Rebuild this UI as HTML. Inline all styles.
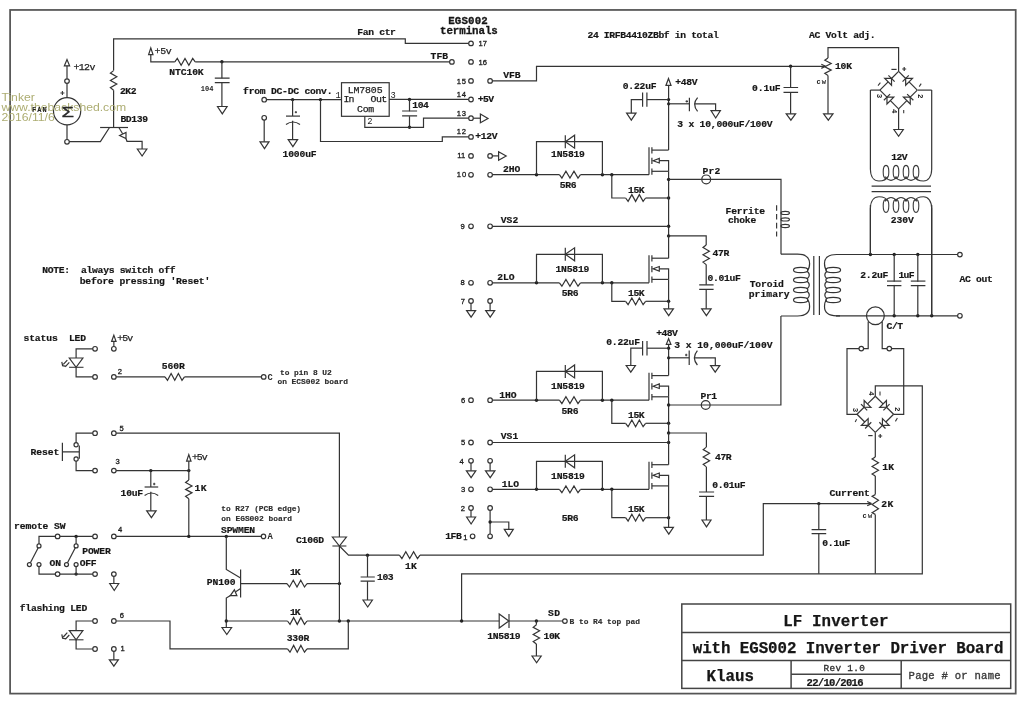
<!DOCTYPE html>
<html><head><meta charset="utf-8"><title>LF Inverter with EGS002 Inverter Driver Board</title>
<style>
html,body{margin:0;padding:0;background:#fff;}
body{width:1024px;height:702px;overflow:hidden;font-family:"Liberation Mono",monospace;}
svg{display:block;position:absolute;left:0;top:0;will-change:transform;}
path,circle,rect,ellipse{fill:none;stroke:#343434;stroke-width:1.2;stroke-linejoin:miter;stroke-linecap:butt;}
.n{stroke-width:1.1;stroke:#3a3a3a;}
.d{fill:#222;stroke:none;}
.w{fill:#fff;stroke:none;}
.b{stroke:#555;stroke-width:1.75;}
.b2{stroke:#444;stroke-width:1.5;}
.dash{stroke-dasharray:5.6 3.2;stroke:#3a3a3a;stroke-width:1.2;}
text{font-family:"Liberation Mono",monospace;fill:#222;stroke:none;white-space:pre;}
.t{font-size:9.7px;font-weight:bold;fill:#161616;stroke:#161616;stroke-width:0.2px;}
.tm{font-size:9.9px;font-weight:normal;fill:#222;stroke:#222;stroke-width:0.25px;}
.tk{font-size:8.8px;font-weight:normal;fill:#222;}
.tv{font-size:9.4px;font-weight:normal;fill:#2a2a2a;stroke:#2a2a2a;stroke-width:0.3px;}
.td{font-size:10.6px;font-weight:bold;fill:#161616;stroke:#161616;stroke-width:0.2px;}
.tg{font-size:10.6px;font-weight:normal;fill:#3a3a3a;stroke:#3a3a3a;stroke-width:0.35px;}
.tl{font-size:10.8px;font-weight:bold;fill:#161616;stroke:#161616;stroke-width:0.3px;}
.tt{font-size:15.8px;font-weight:bold;fill:#161616;stroke:#161616;stroke-width:0.25px;}
.ts{font-size:8.8px;font-weight:bold;fill:#2a2a2a;}
.tn{font-size:7.6px;font-weight:normal;fill:#1a1a1a;stroke:#1a1a1a;stroke-width:0.3px;font-family:"Liberation Sans",sans-serif;}
.tq{font-size:7.9px;font-weight:bold;fill:#2c2c2c;stroke:#2c2c2c;stroke-width:0.15px;}
.th{font-size:7px;font-weight:bold;fill:#222;}
.tx{font-size:6px;font-weight:bold;fill:#444;}
.tr{font-size:7.4px;font-weight:bold;fill:#222;}
.tp{font-size:5px;font-weight:bold;fill:#444;}
.tb{font-size:9.7px;font-weight:bold;fill:#222;stroke:#222;stroke-width:0.2px;}
.sig{font-size:15px;font-weight:normal;fill:#2a2a2a;stroke:#2a2a2a;stroke-width:0.35px;font-family:"Liberation Sans",sans-serif;}
.wm{font-family:"Liberation Sans",sans-serif;font-size:10.4px;fill:#adad72;font-weight:normal;}
</style></head>
<body>
<svg width="1024" height="702" viewBox="0 0 1024 702">
<rect x="10.1" y="9.95" width="1005.6" height="683.65" class="b"/>
<rect x="681.8" y="604" width="328.9" height="84.4" class="b2"/>
<path d="M681.8 632.4 L1010.7 632.4" class="b2"/>
<path d="M681.8 660.4 L1010.7 660.4" class="b2"/>
<path d="M791.1 660.4 L791.1 688.4" class="b2"/>
<path d="M901.2 660.4 L901.2 688.4" class="b2"/>
<path d="M791.1 674.3 L901.2 674.3" class="b2"/>
<path d="M64.4 65.8 L67 59.6 L69.6 65.8 Z"/>
<path d="M67 65.8 L67 78.8"/>
<circle cx="67" cy="81.1" r="2.3"/>
<path d="M67 83.4 L67 97.8"/>
<circle cx="67.1" cy="111.3" r="13.6"/>
<path d="M67 124.9 L67 139.5"/>
<circle cx="67" cy="141.8" r="2.3"/>
<path d="M69.3 141.6 L100.4 141.6 L109.5 127.5"/>
<path d="M100.1 127.5 L128 127.5"/>
<path d="M118.9 127.5 L122.6 133.8"/>
<path d="M126 138.8 L127 141.3 L142.1 141.3 L142.1 149"/>
<path d="M119.6 135.5 L126 132.4 L126 138.6 Z"/>
<path d="M137.35 149 H146.85 L142.1 156 Z"/>
<path d="M113.6 127.5 L113.6 90.2"/>
<path d="M113.6 70.6 L110.4 73.1 L116.8 76.75 L110.4 80.4 L116.8 84.05 L110.4 87.7 L113.6 90.2"/>
<path d="M113.6 70.6 L113.6 38.8 L405.3 38.8 L405.3 43.4 L468.7 43.4"/>
<path d="M60.4 93 H64.4 M62.4 91 V95" class="n"/>
<path d="M148.6 54.6 L150.8 48 L153 54.6 Z"/>
<path d="M150.8 54.6 L150.8 61.8 L174.8 61.8"/>
<path d="M174.8 61.8 L177.3 58.4 L181.15 65.2 L185 58.4 L188.85 65.2 L192.7 58.4 L195.2 61.8"/>
<path d="M195.2 61.8 L449.6 61.8"/>
<circle cx="451.9" cy="61.9" r="2.3"/>
<circle cx="221.9" cy="61.8" r="1.7" class="d"/>
<path d="M221.9 61.8 L221.9 78.2"/>
<path d="M214.8 78.2 H229.6 M214.8 82.7 H229.6"/>
<path d="M221.9 82.7 L221.9 106.5"/>
<path d="M217.5 106.5 H227.1 L222.3 113.9 Z"/>
<circle cx="264.2" cy="99.7" r="2.3"/>
<path d="M266.5 99.6 L341.5 99.6"/>
<circle cx="292.6" cy="99.6" r="1.7" class="d"/>
<circle cx="320.5" cy="99.6" r="1.7" class="d"/>
<rect x="341.5" y="82.7" width="47.7" height="33.6" />
<path d="M389.2 99.4 L468.7 99.4"/>
<circle cx="409.5" cy="99.4" r="1.7" class="d"/>
<path d="M409.5 99.4 L409.5 111.3"/>
<path d="M402.1 111 H417.1 M402.1 115.9 H417.1"/>
<path d="M409.5 116.2 L409.5 127.3"/>
<circle cx="409.5" cy="127.3" r="1.7" class="d"/>
<path d="M364.8 116.3 L364.8 127.3 L423.5 127.3 L423.5 118.2 L468.7 118.2"/>
<path d="M473.3 118.2 L480.4 118.2"/>
<path d="M480.4 114.1 V122.7 L488 118.4 Z"/>
<path d="M320.5 99.6 L320.5 141.5 L442.3 141.5 L442.3 136.8 L468.7 136.8"/>
<circle cx="264.2" cy="117.8" r="2.3"/>
<path d="M264.2 120.1 L264.2 141.8"/>
<path d="M260 141.8 H269 L264.5 148.6 Z"/>
<path d="M292.6 99.6 L292.6 116.1"/>
<path d="M286 116.1 H300"/>
<path d="M286 124.6 Q293 119.4 300 124.6"/>
<path d="M292.6 120.7 L292.6 139.6"/>
<path d="M288.2 139.6 H297.6 L292.9 146.6 Z"/>
<path d="M294.8 112.2 H297 M295.9 111.1 V113.3" class="n"/>
<circle cx="471" cy="43.4" r="2.3"/>
<circle cx="471" cy="61.9" r="2.3"/>
<circle cx="471" cy="80.9" r="2.3"/>
<circle cx="490.1" cy="80.9" r="2.3"/>
<circle cx="471" cy="99.5" r="2.3"/>
<circle cx="471" cy="118.2" r="2.3"/>
<circle cx="471" cy="136.9" r="2.3"/>
<circle cx="471" cy="155.9" r="2.3"/>
<circle cx="490.1" cy="155.9" r="2.3"/>
<circle cx="471" cy="174.8" r="2.3"/>
<circle cx="490.1" cy="174.8" r="2.3"/>
<circle cx="471" cy="226.3" r="2.3"/>
<circle cx="490.1" cy="226.3" r="2.3"/>
<circle cx="471" cy="282.8" r="2.3"/>
<circle cx="490.1" cy="282.8" r="2.3"/>
<circle cx="471" cy="301" r="2.3"/>
<circle cx="490.1" cy="301" r="2.3"/>
<circle cx="471" cy="400.2" r="2.3"/>
<circle cx="490.1" cy="400.2" r="2.3"/>
<circle cx="471" cy="442.5" r="2.3"/>
<circle cx="490.1" cy="442.5" r="2.3"/>
<circle cx="471" cy="460.8" r="2.3"/>
<circle cx="490.1" cy="460.8" r="2.3"/>
<circle cx="471" cy="489.3" r="2.3"/>
<circle cx="490.1" cy="489.3" r="2.3"/>
<circle cx="471" cy="508" r="2.3"/>
<circle cx="490.1" cy="508" r="2.3"/>
<circle cx="472.6" cy="536.3" r="2.3"/>
<circle cx="490.1" cy="536.3" r="2.3"/>
<path d="M492.4 80.8 L536.5 80.8 L536.5 66.3 L825 66.3"/>
<path d="M825.6 66.3 L821.3 64.2 M825.6 66.3 L821.3 68.4"/>
<path d="M492.4 155.9 L498.6 155.9"/>
<path d="M498.6 151.7 V160.3 L506.2 156 Z"/>
<path d="M471 303.3 L471 310.6"/>
<path d="M466.6 310.6 H475.6 L471.1 317.2 Z"/>
<path d="M490.1 303.3 L490.1 310.6"/>
<path d="M485.7 310.6 H494.7 L490.2 317.2 Z"/>
<path d="M471 463.1 L471 470.8"/>
<path d="M466.4 470.8 H475.8 L471.1 477.6 Z"/>
<path d="M490.1 463.1 L490.1 470.8"/>
<path d="M485.5 470.8 H494.9 L490.2 477.6 Z"/>
<path d="M471 510.3 L471 517"/>
<path d="M466.6 517 H475.6 L471.1 524 Z"/>
<path d="M490.1 510.3 L490.1 534"/>
<circle cx="490.1" cy="522" r="1.7" class="d"/>
<path d="M490.1 522 L508.8 522 L508.8 529.3"/>
<path d="M504.3 529.3 H513.3 L508.8 536.3 Z"/>
<path d="M492.4 174.7 L559.4 174.7"/>
<path d="M559.4 174.7 L561.9 178.1 L565.92 171.3 L569.95 178.1 L573.98 171.3 L578 178.1 L580.5 174.7"/>
<path d="M580.5 174.7 L649 174.7"/>
<circle cx="536.5" cy="174.7" r="1.7" class="d"/>
<circle cx="602.4" cy="174.7" r="1.7" class="d"/>
<circle cx="611.8" cy="174.7" r="1.7" class="d"/>
<path d="M536.5 174.7 L536.5 141.7 L602.4 141.7 L602.4 174.7"/>
<path d="M565.3 135.2 V148.2"/>
<path d="M565.3 141.7 L574.6 135.2 L574.6 148.2 Z"/>
<path d="M611.8 174.7 L611.8 198 L625.6 198"/>
<path d="M625.6 198 L628.1 201.4 L631.85 194.6 L635.6 201.4 L639.35 194.6 L643.1 201.4 L645.6 198"/>
<path d="M645.6 198 L668.6 198"/>
<circle cx="668.6" cy="198" r="1.7" class="d"/>
<path d="M649 147.2 L649 174.7"/>
<path d="M651.9 147.2 L651.9 153.4"/>
<path d="M651.9 157.8 L651.9 164.1"/>
<path d="M651.9 168.4 L651.9 174.7"/>
<path d="M651.9 150.1 L668.6 150.1"/>
<path d="M651.9 171.3 L668.6 171.3"/>
<path d="M653.1 160.7 L659.3 158.4 L659.3 163 Z"/>
<path d="M659.3 160.7 L668.6 160.7 L668.6 171.3"/>
<path d="M666 85.3 L668.5 78.5 L671 85.3 Z"/>
<path d="M668.6 85.3 L668.6 150.1"/>
<circle cx="668.6" cy="99.6" r="1.6" class="d"/>
<circle cx="668.6" cy="103.8" r="1.6" class="d"/>
<path d="M642.6 92.4 V106.8 M646.9 92.4 V106.8"/>
<path d="M646.9 99.6 L668.6 99.6"/>
<path d="M642.6 99.6 L631.3 99.6 L631.3 113.1"/>
<path d="M626.6 113.1 H636 L631.3 120.1 Z"/>
<path d="M668.6 103.8 L689.4 103.8"/>
<path d="M689.4 97.8 V111.3"/>
<path d="M697.6 97.6 Q691.6 104.3 697.6 111.3"/>
<path d="M694.7 103.8 L715.6 103.8 L715.6 110.6"/>
<path d="M711 110.6 H720.4 L715.7 118 Z"/>
<path d="M685.6 101.4 H688 M686.8 100.2 V102.6" class="n"/>
<path d="M668.6 171.3 L668.6 235.9"/>
<circle cx="668.6" cy="179.4" r="1.7" class="d"/>
<path d="M668.6 179.4 L781 179.4 L781 254.2"/>
<circle cx="706.2" cy="179.4" r="4.4"/>
<circle cx="668.6" cy="226.3" r="1.7" class="d"/>
<path d="M492.4 226.3 L668.6 226.3"/>
<circle cx="668.6" cy="235.9" r="1.7" class="d"/>
<path d="M492.4 282.8 L559.4 282.8"/>
<path d="M559.4 282.8 L561.9 286.2 L565.92 279.4 L569.95 286.2 L573.98 279.4 L578 286.2 L580.5 282.8"/>
<path d="M580.5 282.8 L649 282.8"/>
<circle cx="536.5" cy="282.8" r="1.7" class="d"/>
<circle cx="602.4" cy="282.8" r="1.7" class="d"/>
<circle cx="611.8" cy="282.8" r="1.7" class="d"/>
<path d="M536.5 282.8 L536.5 254.3 L602.4 254.3 L602.4 282.8"/>
<path d="M565.3 247.8 V260.8"/>
<path d="M565.3 254.3 L574.6 247.8 L574.6 260.8 Z"/>
<path d="M611.8 282.8 L611.8 301.3 L625.6 301.3"/>
<path d="M625.6 301.3 L628.1 304.7 L631.85 297.9 L635.6 304.7 L639.35 297.9 L643.1 304.7 L645.6 301.3"/>
<path d="M645.6 301.3 L668.6 301.3"/>
<circle cx="668.6" cy="301.3" r="1.7" class="d"/>
<path d="M649 255.3 L649 282.8"/>
<path d="M651.9 255.3 L651.9 261.5"/>
<path d="M651.9 265.9 L651.9 272.2"/>
<path d="M651.9 276.5 L651.9 282.8"/>
<path d="M651.9 258.2 L668.6 258.2"/>
<path d="M651.9 279.4 L668.6 279.4"/>
<path d="M653.1 268.8 L659.3 266.5 L659.3 271.1 Z"/>
<path d="M659.3 268.8 L668.6 268.8 L668.6 279.4"/>
<path d="M668.6 235.9 L668.6 258.2"/>
<path d="M668.6 279.4 L668.6 308.8"/>
<path d="M664 308.8 H673.4 L668.7 315.6 Z"/>
<path d="M668.6 235.9 L706.2 235.9 L706.2 245"/>
<path d="M706.2 245 L703 247.5 L709.4 251.15 L703 254.8 L709.4 258.45 L703 262.1 L706.2 264.6"/>
<path d="M706.2 264.6 L706.2 284.8"/>
<path d="M699.2 284.8 H713.6 M699.2 289.4 H713.6"/>
<path d="M706.2 289.4 L706.2 308.8"/>
<path d="M701.7 308.8 H711.1 L706.4 315.6 Z"/>
<path d="M492.4 400.2 L559.4 400.2"/>
<path d="M559.4 400.2 L561.9 403.6 L565.92 396.8 L569.95 403.6 L573.98 396.8 L578 403.6 L580.5 400.2"/>
<path d="M580.5 400.2 L649 400.2"/>
<circle cx="536.5" cy="400.2" r="1.7" class="d"/>
<circle cx="602.4" cy="400.2" r="1.7" class="d"/>
<circle cx="611.8" cy="400.2" r="1.7" class="d"/>
<path d="M536.5 400.2 L536.5 371.4 L602.4 371.4 L602.4 400.2"/>
<path d="M565.3 364.9 V377.9"/>
<path d="M565.3 371.4 L574.6 364.9 L574.6 377.9 Z"/>
<path d="M611.8 400.2 L611.8 423.3 L625.6 423.3"/>
<path d="M625.6 423.3 L628.1 426.7 L631.85 419.9 L635.6 426.7 L639.35 419.9 L643.1 426.7 L645.6 423.3"/>
<path d="M645.6 423.3 L668.6 423.3"/>
<circle cx="668.6" cy="423.3" r="1.7" class="d"/>
<path d="M649 372.7 L649 400.2"/>
<path d="M651.9 372.7 L651.9 378.9"/>
<path d="M651.9 383.3 L651.9 389.6"/>
<path d="M651.9 393.9 L651.9 400.2"/>
<path d="M651.9 375.6 L668.6 375.6"/>
<path d="M651.9 396.8 L668.6 396.8"/>
<path d="M653.1 386.2 L659.3 383.9 L659.3 388.5 Z"/>
<path d="M659.3 386.2 L668.6 386.2 L668.6 396.8"/>
<path d="M666.3 344.4 L668.6 338.7 L670.9 344.4 Z"/>
<path d="M668.6 344.4 L668.6 375.6"/>
<circle cx="668.6" cy="348.2" r="1.6" class="d"/>
<circle cx="668.6" cy="357.8" r="1.6" class="d"/>
<path d="M642.6 340.9 V355.5 M647 340.9 V355.5"/>
<path d="M647 348.2 L668.6 348.2"/>
<path d="M642.6 348.2 L630.8 348.2 L630.8 365.5"/>
<path d="M626.2 365.5 H635.4 L630.8 372.1 Z"/>
<path d="M668.6 357.8 L689.2 357.8"/>
<path d="M689.2 350.6 V365"/>
<path d="M697.4 350.6 Q691.4 357.8 697.4 365"/>
<path d="M694.5 357.8 L715.3 357.8 L715.3 365.6"/>
<path d="M710.6 365.6 H719.8 L715.2 372.2 Z"/>
<path d="M685 355 H687.4 M686.2 353.8 V356.2" class="n"/>
<path d="M668.6 396.8 L668.6 433"/>
<circle cx="668.6" cy="405" r="1.7" class="d"/>
<path d="M668.6 405 L780.9 405 L780.9 316"/>
<circle cx="705.7" cy="405" r="4.4"/>
<circle cx="668.6" cy="433" r="1.7" class="d"/>
<circle cx="668.6" cy="442.5" r="1.7" class="d"/>
<path d="M492.4 442.5 L668.6 442.5"/>
<path d="M492.4 489.3 L559.4 489.3"/>
<path d="M559.4 489.3 L561.9 492.7 L565.92 485.9 L569.95 492.7 L573.98 485.9 L578 492.7 L580.5 489.3"/>
<path d="M580.5 489.3 L649 489.3"/>
<circle cx="536.5" cy="489.3" r="1.7" class="d"/>
<circle cx="602.4" cy="489.3" r="1.7" class="d"/>
<circle cx="611.8" cy="489.3" r="1.7" class="d"/>
<path d="M536.5 489.3 L536.5 461.3 L602.4 461.3 L602.4 489.3"/>
<path d="M565.3 454.8 V467.8"/>
<path d="M565.3 461.3 L574.6 454.8 L574.6 467.8 Z"/>
<path d="M611.8 489.3 L611.8 517.7 L625.6 517.7"/>
<path d="M625.6 517.7 L628.1 521.1 L631.85 514.3 L635.6 521.1 L639.35 514.3 L643.1 521.1 L645.6 517.7"/>
<path d="M645.6 517.7 L668.6 517.7"/>
<circle cx="668.6" cy="517.7" r="1.7" class="d"/>
<path d="M649 461.8 L649 489.3"/>
<path d="M651.9 461.8 L651.9 468"/>
<path d="M651.9 472.4 L651.9 478.7"/>
<path d="M651.9 483 L651.9 489.3"/>
<path d="M651.9 464.7 L668.6 464.7"/>
<path d="M651.9 485.9 L668.6 485.9"/>
<path d="M653.1 475.3 L659.3 473 L659.3 477.6 Z"/>
<path d="M659.3 475.3 L668.6 475.3 L668.6 485.9"/>
<path d="M668.6 433 L668.6 464.7"/>
<path d="M668.6 485.9 L668.6 527.4"/>
<path d="M664.2 527.4 H673.4 L668.8 534.2 Z"/>
<path d="M668.6 433 L706.4 433 L706.4 447.1"/>
<path d="M706.4 447.1 L703.2 449.6 L709.6 453.3 L703.2 457 L709.6 460.7 L703.2 464.4 L706.4 466.9"/>
<path d="M706.4 466.9 L706.4 492"/>
<path d="M699.1 492 H714.1 M699.1 496.4 H714.1"/>
<path d="M706.4 496.4 L706.4 520"/>
<path d="M702 520 H711 L706.5 526.8 Z"/>
<path d="M776.6 205.2 V236.6" class="dash"/>
<ellipse cx="785.2" cy="212.9" rx="4.2" ry="1.6"/>
<ellipse cx="785.2" cy="219.4" rx="4.2" ry="1.6"/>
<ellipse cx="785.2" cy="226" rx="4.2" ry="1.6"/>
<path d="M781 254.2 H797.5 C805.5 254.2 809.6 258 809.6 263.6 C809.6 267.4 808.6 269.4 807.4 270.6"/>
<path d="M781 316 H797.5 C805.5 316 809.6 312.2 809.6 306.6 C809.6 302.8 808.6 300.8 807.4 299.6"/>
<ellipse cx="800.7" cy="270" rx="7.2" ry="2.6"/>
<ellipse cx="800.7" cy="280" rx="7.2" ry="2.6"/>
<ellipse cx="800.7" cy="290" rx="7.2" ry="2.6"/>
<ellipse cx="800.7" cy="300" rx="7.2" ry="2.6"/>
<path d="M807.2 271.2 Q811.4 275 807.2 278.8"/>
<path d="M807.2 281.2 Q811.4 285 807.2 288.8"/>
<path d="M807.2 291.2 Q811.4 295 807.2 298.8"/>
<path d="M813.8 256 V315 M819.4 256 V315"/>
<path d="M840 254.5 H836.6 C828.6 254.5 824.5 258 824.5 263.6 C824.5 267.4 825.5 269.4 826.7 270.6"/>
<path d="M840 315.8 H836.6 C828.6 315.8 824.5 312.2 824.5 306.6 C824.5 302.8 825.5 300.8 826.7 299.6"/>
<ellipse cx="833.2" cy="270" rx="7.4" ry="2.6"/>
<ellipse cx="833.2" cy="280" rx="7.4" ry="2.6"/>
<ellipse cx="833.2" cy="290" rx="7.4" ry="2.6"/>
<ellipse cx="833.2" cy="300" rx="7.4" ry="2.6"/>
<path d="M826.9 271.2 Q822.7 275 826.9 278.8"/>
<path d="M826.9 281.2 Q822.7 285 826.9 288.8"/>
<path d="M826.9 291.2 Q822.7 295 826.9 298.8"/>
<path d="M836 254.5 L957.5 254.5"/>
<path d="M836 315.8 L957.5 315.8"/>
<circle cx="959.9" cy="254.6" r="2.3"/>
<circle cx="959.9" cy="315.8" r="2.3"/>
<circle cx="870.4" cy="254.5" r="1.7" class="d"/>
<circle cx="894.2" cy="254.5" r="1.7" class="d"/>
<circle cx="917.8" cy="254.5" r="1.7" class="d"/>
<circle cx="894.2" cy="315.8" r="1.7" class="d"/>
<circle cx="917.8" cy="315.8" r="1.7" class="d"/>
<circle cx="931.7" cy="315.8" r="1.7" class="d"/>
<path d="M894.2 254.5 L894.2 315.8"/>
<path d="M917.8 254.5 L917.8 315.8"/>
<path d="M887 281.2 H901.4 M887 285.6 H901.4 M910.8 281.2 H925.4 M910.8 285.6 H925.4"/>
<rect x="886" y="281.9" width="40.4" height="3" class="w"/>
<circle cx="875.4" cy="315.8" r="8.9"/>
<path d="M870.4 254.2 L870.4 205"/>
<path d="M931.7 315.8 L931.7 205"/>
<path d="M870.4 169 C870.4 177 874 181 879 181 C884 181 886.5 179.5 887.6 176.5" class="n"/>
<path d="M931.7 169 C931.7 177 928 181 923.5 181 C918.5 181 915.8 179.5 914.6 176.5" class="n"/>
<path d="M884.8 176.5 Q891 184.2 897.2 176.5" class="n"/>
<path d="M894.8 176.5 Q901 184.2 907.2 176.5" class="n"/>
<path d="M904.8 176.5 Q911 184.2 917.2 176.5" class="n"/>
<ellipse cx="886" cy="172" rx="2.8" ry="6.6" class="n"/>
<ellipse cx="896" cy="172" rx="2.8" ry="6.6" class="n"/>
<ellipse cx="906" cy="172" rx="2.8" ry="6.6" class="n"/>
<ellipse cx="916" cy="172" rx="2.8" ry="6.6" class="n"/>
<path d="M870.4 208.8 C870.4 200.8 874 196.8 879 196.8 C884 196.8 886.5 198.3 887.6 201.3" class="n"/>
<path d="M931.7 208.8 C931.7 200.8 928 196.8 923.5 196.8 C918.5 196.8 915.8 198.3 914.6 201.3" class="n"/>
<path d="M884.8 201.3 Q891 193.6 897.2 201.3" class="n"/>
<path d="M894.8 201.3 Q901 193.6 907.2 201.3" class="n"/>
<path d="M904.8 201.3 Q911 193.6 917.2 201.3" class="n"/>
<ellipse cx="886" cy="205.8" rx="2.8" ry="6.6" class="n"/>
<ellipse cx="896" cy="205.8" rx="2.8" ry="6.6" class="n"/>
<ellipse cx="906" cy="205.8" rx="2.8" ry="6.6" class="n"/>
<ellipse cx="916" cy="205.8" rx="2.8" ry="6.6" class="n"/>
<path d="M870.4 90 L870.4 169.2"/>
<path d="M931.7 90 L931.7 169.2"/>
<path d="M870.4 208.6 L870.4 254.2"/>
<path d="M931.7 208.6 L931.7 315.8"/>
<path d="M871.6 186.2 H931 M871.6 191.7 H931"/>
<path d="M879.9 90.1 L888.13 81.87"/>
<path d="M891.53 78.47 L898.6 71.4"/>
<path d="M891.53 85.26 L891.53 78.47 L884.74 78.47 Z"/>
<path d="M894.64 81.58 L888.42 75.36"/>
<path d="M917.3 90.1 L909.07 81.87"/>
<path d="M905.67 78.47 L898.6 71.4"/>
<path d="M912.46 78.47 L905.67 78.47 L905.67 85.26 Z"/>
<path d="M908.78 75.36 L902.56 81.58"/>
<path d="M898.6 108.8 L890.37 100.57"/>
<path d="M886.97 97.17 L879.9 90.1"/>
<path d="M893.76 97.17 L886.97 97.17 L886.97 103.96 Z"/>
<path d="M890.08 94.06 L883.86 100.28"/>
<path d="M898.6 108.8 L906.83 100.57"/>
<path d="M910.23 97.17 L917.3 90.1"/>
<path d="M910.23 103.96 L910.23 97.17 L903.44 97.17 Z"/>
<path d="M913.34 100.28 L907.12 94.06"/>
<path d="M898.6 71.4 L898.6 47.6 L828 47.6 L828 58"/>
<path d="M879.9 90.1 L870.4 90.1"/>
<path d="M917.8 90.1 L931.7 90.1"/>
<path d="M898.6 108.8 L898.6 129.5"/>
<path d="M893.9 129.5 H903.3 L898.6 136.3 Z"/>
<path d="M828 58 L824.8 60.2 L831.2 63.5 L824.8 66.8 L831.2 70.1 L824.8 73.4 L828 75.6"/>
<path d="M828 75.6 L828 113.8"/>
<path d="M823.6 113.8 H833 L828.3 120.2 Z"/>
<circle cx="790.6" cy="66.3" r="1.7" class="d"/>
<path d="M790.6 66.3 L790.6 87.5"/>
<path d="M783.5 87.5 H798.1 M783.5 92.4 H798.1"/>
<path d="M790.6 92.4 L790.6 113.8"/>
<path d="M786.2 113.8 H795.6 L790.9 120.2 Z"/>
<path d="M891.4 69.4 H896.6"/>
<path d="M902.2 69 H906.2 M904.2 67 V71"/>
<path d="M878 85.6 L880.4 82.6 M919.2 86.6 L921.2 83.6" class="n"/>
<path d="M903.7 110 V113.2" class="n"/>
<path d="M868.2 321.4 L868.2 348.6 L863.6 348.6"/>
<path d="M882.2 321.4 L882.2 348.6 L887 348.6"/>
<circle cx="861.3" cy="348.6" r="2.3"/>
<circle cx="889.3" cy="348.6" r="2.3"/>
<path d="M859 348.6 L847 348.6 L847 414.3 L857 414.3"/>
<path d="M891.6 348.6 L903.7 348.6 L903.7 414.3 L893.6 414.3"/>
<path d="M857 414.3 L864.78 421.99"/>
<path d="M868.19 425.37 L875.3 432.4"/>
<path d="M861.4 425.41 L868.19 425.37 L868.15 418.58 Z"/>
<path d="M865.1 428.5 L871.28 422.24"/>
<path d="M893.6 414.3 L885.82 421.99"/>
<path d="M882.41 425.37 L875.3 432.4"/>
<path d="M882.45 418.58 L882.41 425.37 L889.2 425.41 Z"/>
<path d="M879.32 422.24 L885.5 428.5"/>
<path d="M875.3 396.2 L867.52 403.89"/>
<path d="M864.11 407.27 L857 414.3"/>
<path d="M864.15 400.48 L864.11 407.27 L870.9 407.31 Z"/>
<path d="M861.02 404.14 L867.2 410.4"/>
<path d="M875.3 396.2 L883.08 403.89"/>
<path d="M886.49 407.27 L893.6 414.3"/>
<path d="M879.7 407.31 L886.49 407.27 L886.45 400.48 Z"/>
<path d="M883.4 410.4 L889.58 404.14"/>
<path d="M875.3 396.2 L875.3 385.8 L922.3 385.8 L922.3 573.8 L461.6 573.8 L461.6 621"/>
<path d="M875.3 432.4 L875.3 457"/>
<path d="M875.3 457 L872.1 459 L878.5 462.75 L872.1 466.5 L878.5 470.25 L872.1 474 L875.3 476"/>
<path d="M875.3 476 L875.3 494.6"/>
<path d="M875.3 494.6 L872.1 496.2 L878.5 500.35 L872.1 504.5 L878.5 508.65 L872.1 512.8 L875.3 514.4"/>
<path d="M875.3 514.4 L875.3 573.8"/>
<path d="M880 391.6 V395.6" class="n"/>
<path d="M855.2 422 L856.6 419.2 M895.4 421.4 L897.4 418" class="n"/>
<path d="M868.2 435.6 H872.6"/>
<path d="M878.2 436 H882.2 M880.2 434 V438"/>
<path d="M420 555.2 L763.3 555.2 L763.3 503.6 L871 503.6"/>
<path d="M871.6 503.6 L867.2 501.5 M871.6 503.6 L867.2 505.7"/>
<circle cx="818.8" cy="503.6" r="1.7" class="d"/>
<path d="M818.8 503.6 L818.8 529.6"/>
<path d="M811.6 529.6 H826.2 M811.6 533.6 H826.2"/>
<path d="M818.8 533.6 L818.8 573.8"/>
<circle cx="95.05" cy="348.8" r="2.3"/>
<circle cx="113.85" cy="348.8" r="2.3"/>
<circle cx="95.05" cy="376.9" r="2.3"/>
<circle cx="113.85" cy="376.9" r="2.3"/>
<path d="M92.75 348.8 L76.1 348.8 L76.1 358"/>
<path d="M76.1 367.3 L76.1 376.9 L92.75 376.9"/>
<path d="M69.3 358 H82.9 L76.1 367.3 Z"/>
<path d="M69.1 367.3 H83.5" class="n"/>
<path d="M67.3 360.05 L63.3 364.45 M69.3 362.45 L65.2 366.85 M61.8 361.85 L62.6 365.65 L66.2 366.45"/>
<path d="M111.65 341.3 L113.85 335.3 L116.05 341.3 Z"/>
<path d="M113.85 341.3 L113.85 346.5"/>
<path d="M116.15 376.9 L165 376.9"/>
<path d="M165 376.9 L167.5 380.3 L171.12 373.5 L174.75 380.3 L178.38 373.5 L182 380.3 L184.5 376.9"/>
<path d="M184.5 376.9 L261.4 376.9"/>
<circle cx="263.7" cy="376.9" r="2.3"/>
<circle cx="95.05" cy="433.2" r="2.3"/>
<circle cx="113.85" cy="433.2" r="2.3"/>
<circle cx="95.05" cy="470.6" r="2.3"/>
<circle cx="113.85" cy="470.6" r="2.3"/>
<path d="M92.75 433.2 L76.1 433.2 L76.1 442.6"/>
<circle cx="76.1" cy="444.7" r="2.1"/>
<circle cx="76.1" cy="459" r="2.1"/>
<path d="M76.1 461.1 L76.1 470.6 L92.75 470.6"/>
<path d="M79.3 445.6 V458.8 M62.4 451.9 H79.3 M62.4 442.8 V461"/>
<path d="M116.15 433.2 L339.4 433.2 L339.4 537"/>
<path d="M116.15 470.6 L188.8 470.6"/>
<circle cx="150.8" cy="470.6" r="1.7" class="d"/>
<circle cx="188.8" cy="470.6" r="1.7" class="d"/>
<path d="M186.6 461.2 L188.8 454.6 L191 461.2 Z"/>
<path d="M188.8 461.2 L188.8 480"/>
<path d="M188.8 480 L185.6 482.5 L192 485.95 L185.6 489.4 L192 492.85 L185.6 496.3 L188.8 498.8"/>
<path d="M188.8 498.8 L188.8 536.4"/>
<path d="M150.8 470.6 L150.8 487"/>
<path d="M144.6 487 H158.2"/>
<path d="M144.6 495.6 Q151.4 490.4 158.2 495.6"/>
<path d="M150.8 491.8 L150.8 510.8"/>
<path d="M146.7 510.8 H156.1 L151.4 517.6 Z"/>
<path d="M153 484 H155.4 M154.2 482.8 V485.2" class="n"/>
<circle cx="57.6" cy="536.4" r="2.3"/>
<circle cx="95.05" cy="536.4" r="2.3"/>
<circle cx="113.85" cy="536.4" r="2.3"/>
<circle cx="57.6" cy="574.1" r="2.3"/>
<circle cx="95.05" cy="574.1" r="2.3"/>
<circle cx="113.85" cy="574.1" r="2.3"/>
<path d="M113.85 576.4 L113.85 583.5"/>
<path d="M109.75 583.5 H118.75 L114.25 590.5 Z"/>
<path d="M55.3 536.4 L39 536.4 L39 543.9"/>
<path d="M59.9 536.4 L92.75 536.4"/>
<circle cx="76.1" cy="536.4" r="1.7" class="d"/>
<circle cx="76.1" cy="574.1" r="1.7" class="d"/>
<path d="M55.3 574.1 L39 574.1 L39 566.6"/>
<path d="M59.9 574.1 L92.75 574.1"/>
<circle cx="39" cy="545.9" r="2"/>
<circle cx="39" cy="564.6" r="2"/>
<circle cx="29.4" cy="564.6" r="2"/>
<path d="M38.2 547.8 L30.4 562.8"/>
<circle cx="76.1" cy="545.9" r="2"/>
<circle cx="76.1" cy="564.6" r="2"/>
<circle cx="66.5" cy="564.6" r="2"/>
<path d="M75.3 547.8 L67.5 562.8"/>
<path d="M76.1 536.4 L76.1 543.9"/>
<path d="M76.1 566.6 L76.1 574.1"/>
<path d="M116.15 536.4 L261.3 536.4"/>
<circle cx="263.5" cy="536.4" r="2.2"/>
<circle cx="188.8" cy="536.4" r="1.7" class="d"/>
<circle cx="226.3" cy="536.4" r="1.7" class="d"/>
<path d="M226.3 536.4 L226.3 569.4 L240.6 578"/>
<path d="M240.6 569.4 L240.6 597.5"/>
<path d="M240.6 588.5 L235.7 591.8"/>
<path d="M230.4 595.4 L226.3 598 L226.3 627.5"/>
<path d="M230.3 595.7 L234.4 589.8 L236.9 595.7 Z"/>
<path d="M240.6 583.6 L287 583.6"/>
<path d="M287 583.6 L289.5 587 L293.25 580.2 L297 587 L300.75 580.2 L304.5 587 L307 583.6"/>
<path d="M307 583.6 L339.4 583.6"/>
<circle cx="339.4" cy="583.6" r="1.7" class="d"/>
<circle cx="226.3" cy="621" r="1.7" class="d"/>
<path d="M222 627.5 H231.6 L226.8 634.5 Z"/>
<path d="M226.3 621 L287.5 621"/>
<path d="M287.5 621 L290 624.4 L293.62 617.6 L297.25 624.4 L300.88 617.6 L304.5 624.4 L307 621"/>
<path d="M307 621 L499.2 621"/>
<circle cx="339.4" cy="621" r="1.7" class="d"/>
<circle cx="348.3" cy="621" r="1.7" class="d"/>
<circle cx="95.05" cy="621" r="2.3"/>
<circle cx="113.85" cy="621" r="2.3"/>
<circle cx="95.05" cy="649" r="2.3"/>
<circle cx="113.85" cy="649" r="2.3"/>
<path d="M92.75 621 L76.1 621 L76.1 630.6"/>
<path d="M76.1 639.8 L76.1 649 L92.75 649"/>
<path d="M69.3 630.6 H82.9 L76.1 639.8 Z"/>
<path d="M69.1 639.8 H83.5" class="n"/>
<path d="M67.3 632.6 L63.3 637 M69.3 635 L65.2 639.4 M61.8 634.4 L62.6 638.2 L66.2 639"/>
<path d="M113.85 651.3 L113.85 659.8"/>
<path d="M109.35 659.8 H118.35 L113.85 666.2 Z"/>
<path d="M116.15 621 L170 621 L170 648.8 L287.5 648.8"/>
<path d="M287.5 648.8 L290 652.2 L293.62 645.4 L297.25 652.2 L300.88 645.4 L304.5 652.2 L307 648.8"/>
<path d="M307 648.8 L348.3 648.8 L348.3 621"/>
<path d="M332.4 537 H346.4 L339.4 546 Z"/>
<path d="M332.4 546 H346.4" class="n"/>
<path d="M339.4 546 L339.4 621"/>
<path d="M339.4 546 L348.5 555.2 L399.4 555.2"/>
<path d="M399.4 555.2 L401.9 558.6 L405.8 551.8 L409.7 558.6 L413.6 551.8 L417.5 558.6 L420 555.2"/>
<circle cx="367.5" cy="555.2" r="1.7" class="d"/>
<path d="M367.5 555.2 L367.5 577"/>
<path d="M360.6 577 H374.8 M360.6 581.2 H374.8"/>
<path d="M367.5 581.2 L367.5 600"/>
<path d="M363 600 H372.4 L367.7 607 Z"/>
<circle cx="461.6" cy="621" r="1.7" class="d"/>
<path d="M499.2 614 V628 L508.8 621 Z"/>
<path d="M509 614 V628"/>
<path d="M509 621 L562.6 621"/>
<circle cx="564.9" cy="621.1" r="2.3"/>
<circle cx="536.4" cy="621" r="1.7" class="d"/>
<path d="M536.4 624.8 L533.2 627.3 L539.6 630.85 L533.2 634.4 L539.6 637.95 L533.2 641.5 L536.4 644"/>
<path d="M536.4 621 L536.4 624.8"/>
<path d="M536.4 644 L536.4 656"/>
<path d="M532 656 H541.2 L536.6 662.8 Z"/>
<text x="783.3" y="625.8" class="tt" textLength="105.2" lengthAdjust="spacing">LF Inverter</text>
<text x="692.8" y="653.2" class="tt" textLength="310.6" lengthAdjust="spacing">with EGS002 Inverter Driver Board</text>
<text x="706.4" y="680.6" class="tt" textLength="47.6" lengthAdjust="spacing">Klaus</text>
<text x="823.6" y="671.2" class="tv" textLength="41.2" lengthAdjust="spacing">Rev 1.0</text>
<text x="806.6" y="686.4" class="td" textLength="57" lengthAdjust="spacing">22/10/2016</text>
<text x="908.6" y="679" class="tg" textLength="92" lengthAdjust="spacing">Page # or name</text>
<text x="0" y="0" class="wm" transform="translate(1.4 100.7) scale(1.175 1)">Tinker</text>
<text x="0" y="0" class="wm" transform="translate(1.4 110.5) scale(1.175 1)">www.thebackshed.com</text>
<text x="0" y="0" class="wm" transform="translate(1.4 120.7) scale(1.175 1)">2016/11/6</text>
<text x="73.4" y="69.9" class="tm" textLength="22" lengthAdjust="spacing">+12v</text>
<text x="119.9" y="94.1" class="t" textLength="16.56" lengthAdjust="spacing">2K2</text>
<text x="120.4" y="122.3" class="t" textLength="27.6" lengthAdjust="spacing">BD139</text>
<text x="32" y="111.6" class="th" textLength="14.6" lengthAdjust="spacing">FAN</text>
<text x="0" y="0" class="sig" transform="translate(61.6 116.9) scale(1.35 1)">Σ</text>
<text x="154.6" y="53.6" class="tm" textLength="17" lengthAdjust="spacing">+5v</text>
<text x="169.3" y="75.1" class="t" textLength="34.4" lengthAdjust="spacing">NTC10K</text>
<text x="200.8" y="91" class="th" textLength="12.6" lengthAdjust="spacing">104</text>
<text x="243.1" y="94.1" class="t" textLength="89.4" lengthAdjust="spacing">from DC-DC conv.</text>
<text x="347.7" y="93.3" class="tm" textLength="34.9" lengthAdjust="spacing">LM7805</text>
<text x="343.4" y="102.3" class="tm" textLength="11" lengthAdjust="spacing">In</text>
<text x="370.5" y="102.3" class="tm" textLength="16.8" lengthAdjust="spacing">Out</text>
<text x="356.9" y="112.4" class="tm" textLength="17.4" lengthAdjust="spacing">Com</text>
<text x="335.6" y="98.2" class="tk">1</text>
<text x="390.6" y="98.2" class="tk">3</text>
<text x="367.2" y="124.4" class="tk">2</text>
<text x="282.5" y="157.2" class="t" textLength="34.2" lengthAdjust="spacing">1000uF</text>
<text x="412.3" y="108" class="t" textLength="16.56" lengthAdjust="spacing">104</text>
<text x="448.2" y="24.3" class="tl" textLength="39.6" lengthAdjust="spacing">EGS002</text>
<text x="440" y="33.8" class="tl" textLength="57.8" lengthAdjust="spacing">terminals</text>
<text x="357.3" y="35" class="t" textLength="38.64" lengthAdjust="spacing">Fan ctr</text>
<text x="430.5" y="58.7" class="t" textLength="17.6" lengthAdjust="spacing">TFB</text>
<text x="587.5" y="37.5" class="t" textLength="131.3" lengthAdjust="spacing">24 IRFB4410ZBbf in total</text>
<text x="478.4" y="46.3" class="tn" textLength="8.5" lengthAdjust="spacing">17</text>
<text x="478.4" y="64.8" class="tn" textLength="8.5" lengthAdjust="spacing">16</text>
<text x="456.8" y="83.9" class="tn" textLength="9.2" lengthAdjust="spacing">15</text>
<text x="456.8" y="96.8" class="tn" textLength="9.2" lengthAdjust="spacing">14</text>
<text x="456.8" y="115.6" class="tn" textLength="9.2" lengthAdjust="spacing">13</text>
<text x="456.8" y="134.3" class="tn" textLength="9.2" lengthAdjust="spacing">12</text>
<text x="457.2" y="158.4" class="tn" textLength="8" lengthAdjust="spacing">11</text>
<text x="456.8" y="177.4" class="tn" textLength="9.4" lengthAdjust="spacing">10</text>
<text x="460.6" y="228.8" class="tn">9</text>
<text x="460.6" y="285.2" class="tn">8</text>
<text x="460.8" y="303.6" class="tn">7</text>
<text x="461" y="403" class="tn">6</text>
<text x="461" y="445" class="tn">5</text>
<text x="459.6" y="464" class="tn">4</text>
<text x="461" y="492" class="tn">3</text>
<text x="460.8" y="510.5" class="tn">2</text>
<text x="463.2" y="539.8" class="tn">1</text>
<text x="445.2" y="539.4" class="t" textLength="16.6" lengthAdjust="spacing">1FB</text>
<text x="477.7" y="101.7" class="t" textLength="16.4" lengthAdjust="spacing">+5V</text>
<text x="475.3" y="138.8" class="t" textLength="22.4" lengthAdjust="spacing">+12V</text>
<text x="503.3" y="78.2" class="t" textLength="17.4" lengthAdjust="spacing">VFB</text>
<text x="551.1" y="157.4" class="t" textLength="33.8" lengthAdjust="spacing">1N5819</text>
<text x="559.7" y="188" class="t" textLength="17" lengthAdjust="spacing">5R6</text>
<text x="502.9" y="171.6" class="t" textLength="17.4" lengthAdjust="spacing">2HO</text>
<text x="628.1" y="192.6" class="t" textLength="16.6" lengthAdjust="spacing">15K</text>
<text x="675.3" y="84.5" class="t" textLength="22.2" lengthAdjust="spacing">+48V</text>
<text x="622.7" y="89.4" class="t" textLength="34" lengthAdjust="spacing">0.22uF</text>
<text x="677.2" y="126.9" class="t" textLength="95.4" lengthAdjust="spacing">3 x 10,000uF/100V</text>
<text x="702.5" y="173.8" class="t" textLength="17.8" lengthAdjust="spacing">Pr2</text>
<text x="500.7" y="223" class="t" textLength="17.6" lengthAdjust="spacing">VS2</text>
<text x="555.5" y="272" class="t" textLength="33.8" lengthAdjust="spacing">1N5819</text>
<text x="561.7" y="295.6" class="t" textLength="17" lengthAdjust="spacing">5R6</text>
<text x="497.2" y="279.8" class="t" textLength="17.4" lengthAdjust="spacing">2LO</text>
<text x="628.1" y="295.6" class="t" textLength="16.6" lengthAdjust="spacing">15K</text>
<text x="712.4" y="255.9" class="t" textLength="17" lengthAdjust="spacing">47R</text>
<text x="707.5" y="281.3" class="t" textLength="33.4" lengthAdjust="spacing">0.01uF</text>
<text x="551.1" y="389.4" class="t" textLength="33.8" lengthAdjust="spacing">1N5819</text>
<text x="561.5" y="413.5" class="t" textLength="17" lengthAdjust="spacing">5R6</text>
<text x="499.2" y="397.5" class="t" textLength="17.4" lengthAdjust="spacing">1HO</text>
<text x="628.1" y="418.1" class="t" textLength="16.6" lengthAdjust="spacing">15K</text>
<text x="656.2" y="335.9" class="t" textLength="21.6" lengthAdjust="spacing">+48V</text>
<text x="606.2" y="345" class="t" textLength="33.8" lengthAdjust="spacing">0.22uF</text>
<text x="674.2" y="348" class="t" textLength="98.3" lengthAdjust="spacing">3 x 10,000uF/100V</text>
<text x="700.5" y="398.8" class="t" textLength="16.6" lengthAdjust="spacing">Pr1</text>
<text x="500.7" y="439.4" class="t" textLength="17.6" lengthAdjust="spacing">VS1</text>
<text x="551.1" y="479.3" class="t" textLength="33.8" lengthAdjust="spacing">1N5819</text>
<text x="561.7" y="521.3" class="t" textLength="17" lengthAdjust="spacing">5R6</text>
<text x="501.7" y="486.5" class="t" textLength="17.4" lengthAdjust="spacing">1LO</text>
<text x="628.1" y="511.9" class="t" textLength="16.6" lengthAdjust="spacing">15K</text>
<text x="714.9" y="460.4" class="t" textLength="16.8" lengthAdjust="spacing">47R</text>
<text x="712.2" y="488" class="t" textLength="33.4" lengthAdjust="spacing">0.01uF</text>
<text x="725.5" y="214" class="t" textLength="39.6" lengthAdjust="spacing">Ferrite</text>
<text x="728" y="222.6" class="t" textLength="28.3" lengthAdjust="spacing">choke</text>
<text x="749.7" y="286.9" class="t" textLength="34.2" lengthAdjust="spacing">Toroid</text>
<text x="748.7" y="296.9" class="t" textLength="41" lengthAdjust="spacing">primary</text>
<text x="860.2" y="277.5" class="t" textLength="28.2" lengthAdjust="spacing">2.2uF</text>
<text x="898.5" y="277.5" class="t" textLength="16" lengthAdjust="spacing">1uF</text>
<text x="959.5" y="281.7" class="t" textLength="33.4" lengthAdjust="spacing">AC out</text>
<text x="886.5" y="328.8" class="t" textLength="16.6" lengthAdjust="spacing">C/T</text>
<text x="891.3" y="159.6" class="t" textLength="16.4" lengthAdjust="spacing">12V</text>
<text x="890.7" y="223" class="t" textLength="23.2" lengthAdjust="spacing">230V</text>
<text x="834.9" y="68.7" class="t" textLength="17.2" lengthAdjust="spacing">10K</text>
<text x="809" y="37.5" class="t" textLength="66.6" lengthAdjust="spacing">AC Volt adj.</text>
<text x="816.4" y="83.6" class="th" textLength="9.6" lengthAdjust="spacing">cw</text>
<text x="751.9" y="91.3" class="t" textLength="28.8" lengthAdjust="spacing">0.1uF</text>
<text x="0" y="0" class="tr" text-anchor="middle" transform="translate(878.7 96) rotate(90) translate(0 2.2)">3</text>
<text x="0" y="0" class="tr" text-anchor="middle" transform="translate(920.2 96.2) rotate(90) translate(0 2.2)">2</text>
<text x="0" y="0" class="tr" text-anchor="middle" transform="translate(894.2 111.3) rotate(90) translate(0 2.2)">4</text>
<text x="882.3" y="469.9" class="t" textLength="11.8" lengthAdjust="spacing">1K</text>
<text x="881.3" y="506.8" class="t" textLength="12" lengthAdjust="spacing">2K</text>
<text x="829.5" y="495.8" class="t" textLength="40.4" lengthAdjust="spacing">Current</text>
<text x="862.6" y="518.2" class="th" textLength="9.6" lengthAdjust="spacing">cw</text>
<text x="0" y="0" class="tr" text-anchor="middle" transform="translate(871.2 393.4) rotate(90) translate(0 2.2)">4</text>
<text x="0" y="0" class="tr" text-anchor="middle" transform="translate(855.5 410) rotate(90) translate(0 2.2)">3</text>
<text x="0" y="0" class="tr" text-anchor="middle" transform="translate(896.9 409.2) rotate(90) translate(0 2.2)">2</text>
<text x="822.2" y="545.5" class="t" textLength="28.2" lengthAdjust="spacing">0.1uF</text>
<text x="42.2" y="272.8" class="t" textLength="133.3" lengthAdjust="spacing">NOTE:  always switch off</text>
<text x="79.7" y="284.4" class="t" textLength="130.6" lengthAdjust="spacing">before pressing 'Reset'</text>
<text x="23.5" y="340.6" class="t" textLength="62.6" lengthAdjust="spacing">status  LED</text>
<text x="117.2" y="340.6" class="tm" textLength="16" lengthAdjust="spacing">+5v</text>
<text x="117.8" y="374.4" class="tn">2</text>
<text x="161.7" y="368.8" class="t" textLength="23.2" lengthAdjust="spacing">560R</text>
<text x="267.4" y="380" class="ts">C</text>
<text x="280" y="374.6" class="tq" textLength="51.8" lengthAdjust="spacing">to pin 8 U2</text>
<text x="277.5" y="384" class="tq" textLength="70.6" lengthAdjust="spacing">on ECS002 board</text>
<text x="30.5" y="455.4" class="t" textLength="28.8" lengthAdjust="spacing">Reset</text>
<text x="119.6" y="430.6" class="tn">5</text>
<text x="115.4" y="463.8" class="tn">3</text>
<text x="192" y="460" class="tm" textLength="15.6" lengthAdjust="spacing">+5v</text>
<text x="194.5" y="491.3" class="t" textLength="12" lengthAdjust="spacing">1K</text>
<text x="120.6" y="495.6" class="t" textLength="22.6" lengthAdjust="spacing">10uF</text>
<text x="14.1" y="528.8" class="t" textLength="51.4" lengthAdjust="spacing">remote SW</text>
<text x="82.2" y="554" class="t" textLength="28.6" lengthAdjust="spacing">POWER</text>
<text x="49.5" y="566" class="t" textLength="11.6" lengthAdjust="spacing">ON</text>
<text x="79.7" y="566" class="t" textLength="16.8" lengthAdjust="spacing">OFF</text>
<text x="118" y="532" class="tn">4</text>
<text x="267.4" y="539.4" class="ts">A</text>
<text x="221" y="533" class="t" textLength="34.2" lengthAdjust="spacing">SPWMEN</text>
<text x="221.3" y="511.3" class="tq" textLength="79.8" lengthAdjust="spacing">to R27 (PCB edge)</text>
<text x="221.3" y="520.8" class="tq" textLength="70.8" lengthAdjust="spacing">on EGS002 board</text>
<text x="206.7" y="584.9" class="t" textLength="28.8" lengthAdjust="spacing">PN100</text>
<text x="290.1" y="575.4" class="t" textLength="10.6" lengthAdjust="spacing">1K</text>
<text x="290.1" y="615.2" class="t" textLength="10.6" lengthAdjust="spacing">1K</text>
<text x="19.7" y="611" class="t" textLength="67.6" lengthAdjust="spacing">flashing LED</text>
<text x="119.8" y="618" class="tn">6</text>
<text x="120.6" y="651.4" class="tn">1</text>
<text x="286.7" y="640.8" class="t" textLength="22.6" lengthAdjust="spacing">330R</text>
<text x="296" y="543" class="t" textLength="28.2" lengthAdjust="spacing">C106D</text>
<text x="405.1" y="568.6" class="t" textLength="11.8" lengthAdjust="spacing">1K</text>
<text x="377" y="580" class="t" textLength="16.6" lengthAdjust="spacing">103</text>
<text x="487.2" y="639" class="t" textLength="33.4" lengthAdjust="spacing">1N5819</text>
<text x="543.5" y="638.6" class="t" textLength="16.6" lengthAdjust="spacing">10K</text>
<text x="547.9" y="616" class="t" textLength="12.2" lengthAdjust="spacing">SD</text>
<text x="569.6" y="623.7" class="tq" textLength="70.4" lengthAdjust="spacing">B to R4 top pad</text>
</svg>
</body></html>
